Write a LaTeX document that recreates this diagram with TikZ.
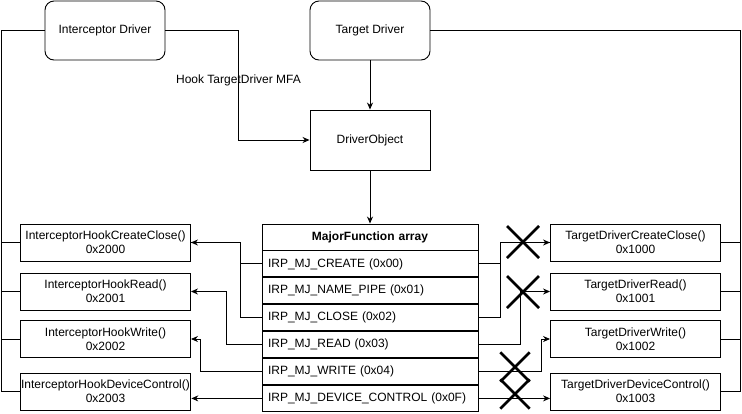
\documentclass[tikz,border=0pt]{standalone}
\usepackage{fontspec}
\setmainfont{Liberation Sans}
\usetikzlibrary{arrows.meta,
                chains,
                positioning}

\begin{document}
\begin{tikzpicture}[
            x = 1pt, y = -1pt,
            line width = 0.9pt,
            node distance = 0pt,
            start chain = M going below,
            every node/.style = {font=\fontsize{12}{14}\selectfont},
            base/.style = {draw, align=center, inner sep=1pt},
            driver/.style = {base, rounded corners=9pt, minimum width=120pt, minimum height=59pt},
            object/.style = {base, minimum width=120pt, minimum height=60pt},
            func/.style = {base, minimum width=170pt, minimum height=37pt},
            row/.style = {draw, on chain=M, minimum width=216pt, minimum height=26pt,
                    text width=204pt, inner xsep=6pt, align=left},
            head/.style = {row, align=center, font=\fontsize{12}{14}\selectfont\bfseries},
            arr/.style = {-{Stealth[length=7pt,width=6pt]}},
            cross/.style = {line width=2.6pt},
            xcross/.pic = {\draw[cross] (-16,-16) -- (16,16) (-16,16) -- (16,-16);}]

        \useasboundingbox (0,0) rectangle (742,413);

        % Drivers
        \node [driver] (intr) at (105,30.5)  {Interceptor Driver};
        \node [driver] (tgt)  at (370,30.5)  {Target Driver};
        \node [object] (dobj) at (370,140)   {DriverObject};

        % MajorFunction array
        \node [head] at (370,237)   {MajorFunction array};           % M-1
        \node [row]                 {IRP\_MJ\_CREATE (0x00)};          % M-2
        \node [row]                 {IRP\_MJ\_NAME\_PIPE (0x01)};      % M-3
        \node [row]                 {IRP\_MJ\_CLOSE (0x02)};           % M-4
        \node [row]                 {IRP\_MJ\_READ (0x03)};            % M-5
        \node [row]                 {IRP\_MJ\_WRITE (0x04)};           % M-6
        \node [row]                 {IRP\_MJ\_DEVICE\_CONTROL (0x0F)}; % M-7

        % Hook routines
        \node [func] (icc) at (105.5,242.5) {InterceptorHookCreateClose()\\0x2000};
        \node [func] (ird) at (105.5,291.5) {InterceptorHookRead()\\0x2001};
        \node [func] (iwr) at (105.5,339)   {InterceptorHookWrite()\\0x2002};
        \node [func] (idc) at (105.5,391.5) {InterceptorHookDeviceControl()\\0x2003};

        % Target routines
        \node [func] (tcc) at (635.5,242.5) {TargetDriverCreateClose()\\0x1000};
        \node [func] (trd) at (635.5,291.5) {TargetDriverRead()\\0x1001};
        \node [func] (twr) at (635.5,339)   {TargetDriverWrite()\\0x1002};
        \node [func] (tdc) at (635.5,391.5) {TargetDriverDeviceControl()\\0x1003};

        % Hook
        \coordinate (hk) at (238.5,140);
        \node (hooklbl) at (238.5,80) {Hook TargetDriver MFA};
        \draw [arr] (intr.east) -| (hk) -- (dobj.west);
        \draw [arr] (tgt) -- (dobj);
        \draw [arr] (dobj) -- (M-1);

        % Ownership
        \coordinate (lb) at (1.5,391.5);
        \coordinate (rb) at (740,391.5);
        \draw (intr.west) -| (lb) -- (idc.west);
        \draw (icc.west) -- (icc.west -| lb)
              (ird.west) -- (ird.west -| lb)
              (iwr.west) -- (iwr.west -| lb);
        \draw (tgt.east) -| (rb) -- (tdc.east);
        \draw (tcc.east) -- (tcc.east -| rb)
              (trd.east) -- (trd.east -| rb)
              (twr.east) -- (twr.east -| rb);

        % Hooked dispatch
        \draw [arr] (M-2.west) -- ++(-21,0) |- (icc.east);
        \draw       (M-4.west) -- ++(-21,0) |- (icc.east);
        \draw [arr] (M-5.west) -- ++(-35,0) |- (ird.east);
        \draw [arr] (M-6.west) -- ++(-61,0) |- (iwr.east);
        \draw [arr] (M-7.west) -- (M-7.west -| idc.east);

        % Original dispatch
        \draw [arr] (M-2.east) -- ++(22,0) |- (tcc.west);
        \draw       (M-4.east) -- ++(22,0) |- (tcc.west);
        \draw [arr] (M-5.east) -- ++(42,0) |- (trd.west);
        \draw [arr] (M-6.east) -- ++(63,0) |- (twr.west);
        \draw [arr] (M-7.east) -- (M-7.east -| tdc.west);

        % Cut
        \pic at (523,242) {xcross};
        \pic at (523,292) {xcross};
        \pic at (515,367) [scale=0.92] {xcross};
        \pic at (515,394) [scale=0.92] {xcross};
    \end{tikzpicture}
\end{document}
